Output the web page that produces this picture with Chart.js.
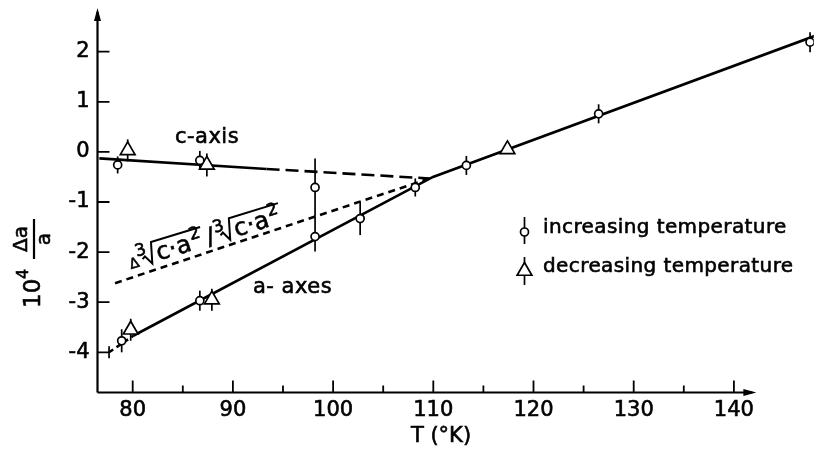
<!DOCTYPE html>
<html>
<head>
<meta charset="utf-8">
<script src="https://cdn.jsdelivr.net/npm/chart.js@4"></script>
<style>
  html, body { margin: 0; padding: 0; background: #fff; }
  #wrap { width: 824px; height: 454px; }
</style>
</head>
<body>
<div id="wrap"><canvas id="myChart" width="824" height="454"></canvas></div>
<script>
// --- DONNÉES ---
// points "increasing temperature" (cercles)
const incT      = [78.5, 86.7, 98.2, 78.9, 86.7, 98.2, 102.7, 108.2, 113.3, 126.5, 147.6];
const incVal    = [-0.26, -0.17, -0.71, -3.77, -2.97, -1.69, -1.33, -0.71, -0.27, 0.76, 2.19];
const incErrUp  = [0.17, 0.19, 0.58, 0.23, 0.20, 0.40, 0.33, 0.18, 0.19, 0.19, 0.20];
const incErrDn  = [0.17, 0.19, 0.58, 0.23, 0.20, 0.30, 0.33, 0.18, 0.19, 0.19, 0.20];

// points "decreasing temperature" (triangles)
const decT      = [79.5, 87.4, 79.8, 87.9, 117.4];
const decVal    = [0.03, -0.26, -3.55, -2.95, 0.05];
const decErr    = [0.22, 0.23, 0.22, 0.22, 0];

// courbes tracées à la main sur l'original
const aLineT    = [80.06, 109.97, 148.69];
const aLineVal  = [-3.67, -0.50, 2.36];
const aExtT     = [77.64, 80.06];
const aExtVal   = [-4.0, -3.67];
const cSolidT   = [76.67, 93.36];
const cSolidVal = [-0.13, -0.34];
const cDashT    = [93.36, 109.64];
const cDashVal  = [-0.34, -0.53];
const cubeT     = [78.24, 109.64];
const cubeVal   = [-2.62, -0.53];

// axes
const xTicks      = [80, 90, 100, 110, 120, 130, 140];
const xTickLabels = ['80', '90', '100', '110', '120', '130', '140'];
const xMinor      = [85, 95, 105, 115, 125, 135];
const yTicks      = [-4, -3, -2, -1, 0, 1, 2];
const yTickLabels = ['-4', '-3', '-2', '-1', '0', '1', '2'];

const legendLabels = ['increasing temperature', 'decreasing temperature'];

const FONT = "'DejaVu Sans', sans-serif";
const INK = '#000';
const TXT_STROKE = 0.6;

// calage des échelles sur l'image (pixels)
const X80_PX = 132.7, X_UNIT = 10.02;
const Y0_PX = 151.9, Y_UNIT = 50.1;

const pts = (xs, ys) => xs.map((x, k) => ({ x: x, y: ys[k] }));

// --- OUTILS DE DESSIN ---
function arrowHead(ctx, x, y, dir) {
    ctx.beginPath();
    if (dir === 'up') {
        ctx.moveTo(x, y); ctx.lineTo(x - 3.5, y + 13); ctx.lineTo(x + 3.5, y + 13);
    } else {
        ctx.moveTo(x, y); ctx.lineTo(x - 13, y - 3.5); ctx.lineTo(x - 13, y + 3.5);
    }
    ctx.closePath();
    ctx.fill();
}

// texte un peu plus gras, comme le lettrage à la plume
function ink(ctx, txt, x, y) {
    const lw = ctx.lineWidth;
    ctx.lineWidth = TXT_STROKE;
    ctx.fillText(txt, x, y);
    ctx.strokeText(txt, x, y);
    ctx.lineWidth = lw;
}

function drawRadical(ctx, x, text, size, supSize) {
    ctx.font = `${supSize}px ${FONT}`;
    ink(ctx, '3', x, -10);
    const x0 = x + 5;
    ctx.font = `${size}px ${FONT}`;
    const w = ctx.measureText(text).width;
    ctx.font = `${supSize}px ${FONT}`;
    const w2 = ctx.measureText('2').width;
    const end = x0 + 16 + w + w2 + 2;
    ctx.lineWidth = 2;
    ctx.beginPath();
    ctx.moveTo(x0, -6); ctx.lineTo(x0 + 3, -8); ctx.lineTo(x0 + 8, 1);
    ctx.lineTo(x0 + 13, -20); ctx.lineTo(end, -20);
    ctx.stroke();
    ctx.font = `${size}px ${FONT}`;
    ink(ctx, text, x0 + 15, 0);
    ctx.font = `${supSize}px ${FONT}`;
    ink(ctx, '2', x0 + 15 + w + 1, -10);
    return end;
}

const decor = {
    id: 'decor',
    beforeDatasetsDraw(chart) {
        const ctx = chart.ctx;
        const xs = chart.scales.x, ys = chart.scales.y;
        ctx.save();
        ctx.strokeStyle = INK;
        ctx.lineWidth = 1.7;
        // barres d'erreur
        incT.forEach((t, k) => {
            const px = xs.getPixelForValue(t);
            ctx.beginPath();
            ctx.moveTo(px, ys.getPixelForValue(incVal[k] + incErrUp[k]));
            ctx.lineTo(px, ys.getPixelForValue(incVal[k] - incErrDn[k]));
            ctx.stroke();
        });
        decT.forEach((t, k) => {
            if (!decErr[k]) return;
            const px = xs.getPixelForValue(t);
            ctx.beginPath();
            ctx.moveTo(px, ys.getPixelForValue(decVal[k] + decErr[k]));
            ctx.lineTo(px, ys.getPixelForValue(decVal[k] - decErr[k]));
            ctx.stroke();
        });
        ctx.restore();
    },
    afterDraw(chart) {
        const ctx = chart.ctx;
        const xs = chart.scales.x, ys = chart.scales.y;
        const x0 = xs.getPixelForValue(xs.min), y0 = ys.getPixelForValue(ys.min);
        ctx.save();
        ctx.strokeStyle = INK;
        ctx.fillStyle = INK;
        ctx.lineWidth = 2.2;

        // axes avec flèches
        const yTop = ys.getPixelForValue(2.87);
        const xEnd = xs.getPixelForValue(142.24);
        ctx.beginPath();
        ctx.moveTo(x0, y0); ctx.lineTo(x0, yTop + 4);
        ctx.moveTo(x0, y0); ctx.lineTo(xEnd - 4, y0);
        ctx.stroke();
        arrowHead(ctx, x0, yTop, 'up');
        arrowHead(ctx, xEnd, y0, 'right');

        // graduations vers l'intérieur
        ctx.lineWidth = 1.8;
        ctx.beginPath();
        yTicks.forEach(v => {
            const py = ys.getPixelForValue(v);
            ctx.moveTo(x0, py); ctx.lineTo(x0 + 12, py);
        });
        xTicks.forEach(v => {
            const px = xs.getPixelForValue(v);
            ctx.moveTo(px, y0); ctx.lineTo(px, y0 - 12);
        });
        xMinor.forEach(v => {
            const px = xs.getPixelForValue(v);
            ctx.moveTo(px, y0); ctx.lineTo(px, y0 - 7);
        });
        ctx.stroke();

        // titre axe x
        ctx.font = `21px ${FONT}`;
        ctx.textAlign = 'center';
        ctx.textBaseline = 'middle';
        ink(ctx, 'T (°K)', 441, 437);

        // titre axe y : 10^4 Δa/a
        ctx.save();
        ctx.translate(34, 265);
        ctx.rotate(-Math.PI / 2);
        ctx.textAlign = 'left';
        ctx.textBaseline = 'middle';
        ctx.font = `23px ${FONT}`;
        ink(ctx, '10', -43, 0);
        ctx.font = `16px ${FONT}`;
        ink(ctx, '4', -14, -10);
        ctx.textAlign = 'center';
        ctx.font = `20px ${FONT}`;
        ink(ctx, 'Δa', 26, -12);
        ink(ctx, 'a', 26, 11);
        ctx.lineWidth = 2.2;
        ctx.beginPath();
        ctx.moveTo(6, 0); ctx.lineTo(46, 0);
        ctx.stroke();
        ctx.restore();

        // étiquettes des courbes
        ctx.font = `21px ${FONT}`;
        ctx.letterSpacing = '0.5px';
        ctx.textAlign = 'center';
        ink(ctx, 'c-axis', 207, 138);
        ctx.textAlign = 'left';
        ink(ctx, 'a- axes', 253, 288);
        ctx.letterSpacing = '0px';

        // Δ∛(c·a²) / ∛(c·a²) le long de la droite pointillée
        ctx.save();
        ctx.translate(131, 269);
        ctx.rotate(-17 * Math.PI / 180);
        ctx.textAlign = 'left';
        ctx.textBaseline = 'alphabetic';
        ctx.font = `14px ${FONT}`;
        ink(ctx, 'Δ', 0, 0);
        let cx = drawRadical(ctx, 9, 'c·a', 24, 17);
        ctx.font = `24px ${FONT}`;
        ink(ctx, '/', cx + 3, 0);
        cx += 3 + ctx.measureText('/').width + 1;
        drawRadical(ctx, cx, 'c·a', 24, 17);
        ctx.restore();

        // légende
        const lx = 524.5;
        ctx.lineWidth = 1.7;
        ctx.beginPath();
        ctx.moveTo(lx, 217); ctx.lineTo(lx, 244);
        ctx.moveTo(lx, 257); ctx.lineTo(lx, 285);
        ctx.stroke();
        ctx.fillStyle = '#fff';
        Chart.helpers.drawPoint(ctx, { pointStyle: 'circle', radius: 4, borderWidth: 1.7, rotation: 0 }, lx, 232);
        Chart.helpers.drawPoint(ctx, { pointStyle: 'triangle', radius: 8.5, borderWidth: 1.7, rotation: 0 }, lx, 271);
        ctx.fillStyle = INK;
        ctx.font = `20px ${FONT}`;
        ctx.letterSpacing = '0.4px';
        ctx.textAlign = 'left';
        ctx.textBaseline = 'middle';
        ink(ctx, legendLabels[0], 543, 228);
        ink(ctx, legendLabels[1], 543, 267);

        ctx.restore();
    }
};

// --- GRAPHIQUE ---
const lineDs = (data, dash) => ({
    type: 'line',
    data: data,
    borderColor: INK,
    borderWidth: 2.6,
    borderDash: dash,
    pointRadius: 0,
    fill: false,
    tension: 0,
    order: 2
});

const tickFont = { family: FONT, size: 21 };

const ctx = document.getElementById('myChart').getContext('2d');
const myChart = new Chart(ctx, {
    type: 'scatter',
    data: {
        datasets: [
            {
                label: legendLabels[0],
                data: pts(incT, incVal),
                pointStyle: 'circle',
                pointRadius: 4,
                pointBorderWidth: 1.7,
                pointBackgroundColor: '#fff',
                pointBorderColor: INK,
                order: 0
            },
            {
                label: legendLabels[1],
                data: pts(decT, decVal),
                pointStyle: 'triangle',
                pointRadius: 8.5,
                pointBorderWidth: 1.7,
                pointBackgroundColor: '#fff',
                pointBorderColor: INK,
                order: 0
            },
            {
                label: 'start',
                data: pts([aExtT[0]], [aExtVal[0]]),
                pointStyle: 'line',
                rotation: 90,
                pointRadius: 6,
                pointBorderWidth: 1.7,
                pointBorderColor: INK,
                order: 1
            },
            lineDs(pts(aLineT, aLineVal), []),
            lineDs(pts(aExtT, aExtVal), [5, 4]),
            lineDs(pts(cSolidT, cSolidVal), []),
            lineDs(pts(cDashT, cDashVal), [13, 6]),
            lineDs(pts(cubeT, cubeVal), [7, 5])
        ]
    },
    options: {
        responsive: false,
        animation: false,
        events: [],
        layout: { padding: 0 },
        plugins: { legend: { display: false }, tooltip: { enabled: false } },
        scales: {
            x: {
                type: 'linear',
                min: 76.49,
                max: 148.92,
                grid: { display: false, drawTicks: false },
                border: { display: false },
                afterBuildTicks: s => { s.ticks = xTicks.map(v => ({ value: v })); },
                afterFit: s => { s.height = 454 - 392.5; },
                ticks: {
                    padding: 5,
                    color: INK,
                    font: tickFont,
                    textStrokeColor: INK,
                    textStrokeWidth: TXT_STROKE,
                    maxRotation: 0,
                    autoSkip: false,
                    callback: (v, k) => xTickLabels[k]
                }
            },
            y: {
                type: 'linear',
                min: -4.802,
                max: 3.032,
                grid: { display: false, drawTicks: false },
                border: { display: false },
                afterBuildTicks: s => { s.ticks = yTicks.map(v => ({ value: v })); },
                afterFit: s => { s.width = 97.5; },
                ticks: {
                    padding: 8,
                    color: INK,
                    font: tickFont,
                    textStrokeColor: INK,
                    textStrokeWidth: TXT_STROKE,
                    autoSkip: false,
                    callback: (v, k) => yTickLabels[k]
                }
            }
        }
    },
    plugins: [decor]
});

// --- CALAGE : la zone du graphe est connue après le premier rendu ---
function caler(chart) {
    const a = chart.chartArea;
    const sx = chart.options.scales.x, sy = chart.options.scales.y;
    sx.min = 80 - (X80_PX - a.left) / X_UNIT;
    sx.max = sx.min + (a.right - a.left) / X_UNIT;
    sy.max = (Y0_PX - a.top) / Y_UNIT;
    sy.min = sy.max - (a.bottom - a.top) / Y_UNIT;
}
caler(myChart);
myChart.update();
</script>
</body>
</html>
